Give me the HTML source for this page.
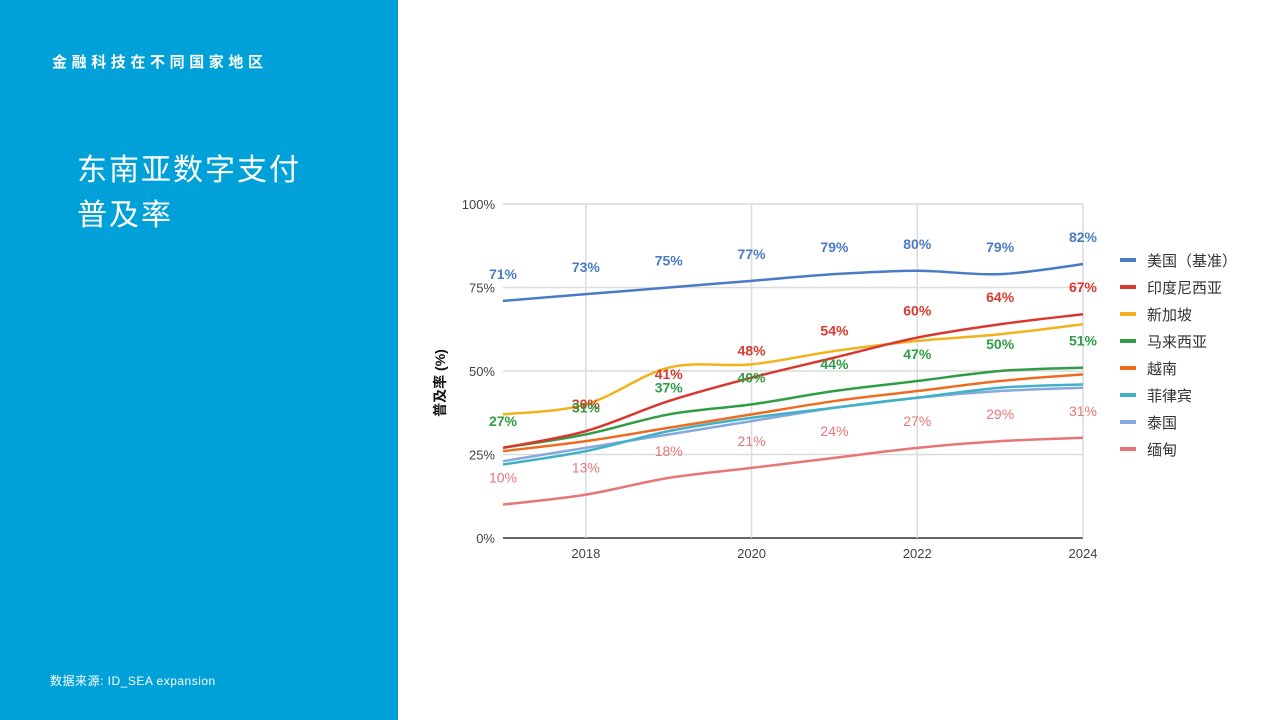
<!DOCTYPE html>
<html><head><meta charset="utf-8"><style>
body{margin:0;width:1280px;height:720px;position:relative;background:#fff;font-family:"Liberation Sans","Noto Sans CJK SC",sans-serif;overflow:hidden}
#side{position:absolute;left:0;top:0;width:398px;height:720px;background:#00a1d8;color:#fff}
.sub{position:absolute;left:52px;top:51px;font-size:15px;font-weight:bold;letter-spacing:4.6px;white-space:nowrap}
.title{position:absolute;left:77px;top:148px;font-size:30px;line-height:45px;letter-spacing:2px}
.src{position:absolute;left:50px;top:672px;font-size:12px;letter-spacing:0.5px}
svg{position:absolute;left:0;top:0}
</style></head><body>
<div id="side">
<div class="sub">金融科技在不同国家地区</div>
<div class="title">东南亚数字支付<br>普及率</div>
<div class="src">数据来源: ID_SEA expansion</div>
</div>
<svg id="chart" width="1280" height="720"></svg>
<script>
const years=[2017,2018,2019,2020,2021,2022,2023,2024];
const names=["美国（基准）","印度尼西亚","新加坡","马来西亚","越南","菲律宾","泰国","缅甸"];
const colors=["#4a7bc6","#d8392f","#f2b21c","#2f9d45","#f06b22","#40b2c8","#86a8dd","#e87676"];
const usVals=[71,73,75,77,79,80,79,82];
const idVals=[27,32,41,48,54,60,64,67];
const sgVals=[37,40,51,52,56,59,61,64];
const myVals=[27,31,37,40,44,47,50,51];
const vnVals=[26,29,33,37,41,44,47,49];
const phVals=[22,26,32,36,39,42,45,46];
const thVals=[23,27,31,35,39,42,44,45];
const mmVals=[10,13,18,21,24,27,29,30];
const idLabels=[null,30,41,48,54,60,64,67];
const mmLabels=[10,13,18,21,24,27,29,31];
const yTicks=[0,25,50,75,100];
const xTicks=[2018,2020,2022,2024];
const series=[usVals,idVals,sgVals,myVals,vnVals,phVals,thVals,mmVals];
const labelSets=[usVals,idLabels,null,myVals,null,null,null,mmLabels];
const NS="http://www.w3.org/2000/svg",svg=document.getElementById('chart');
const x=y=>503+(y-2017)*(1083-503)/7, yv=v=>538-v*3.34;
function mk(t,a,txt){const e=document.createElementNS(NS,t);for(const k in a)e.setAttribute(k,a[k]);if(txt!=null)e.textContent=txt;svg.appendChild(e);return e;}
yTicks.forEach(t=>{const g=mk('line',{x1:503,x2:1083,y1:yv(t),y2:yv(t),stroke:t?'#dcdcdc':'#333','stroke-width':1.5});

const l=mk('text',{x:495,y:yv(t)+5,'text-anchor':'end','font-size':13,fill:'#444'},t+'%');
});
xTicks.forEach(t=>{const g=mk('line',{x1:x(t),x2:x(t),y1:204,y2:538,stroke:'#dcdcdc','stroke-width':1.5});

const l=mk('text',{x:x(t),y:558,'text-anchor':'middle','font-size':13,fill:'#444'},t);
});
const yt=mk('text',{x:0,y:0,transform:'translate(445,383) rotate(-90)','text-anchor':'middle','font-size':14,'font-weight':'bold',fill:'#111'},'普及率 (%)');

function path(vals){const p=vals.map((v,i)=>[x(years[i]),yv(v)]);let d='M'+p[0][0]+','+p[0][1];
for(let i=0;i<p.length-1;i++){const p0=p[Math.max(0,i-1)],p1=p[i],p2=p[i+1],p3=p[Math.min(p.length-1,i+2)];
d+=` C${p1[0]+(p2[0]-p0[0])/6},${p1[1]+(p2[1]-p0[1])/6} ${p2[0]-(p3[0]-p1[0])/6},${p2[1]-(p3[1]-p1[1])/6} ${p2[0]},${p2[1]}`;}return d;}
for(let s=series.length-1;s>=0;s--){const e=mk('path',{d:path(series[s]),fill:'none',stroke:colors[s],'stroke-width':2.5});
}
[1,0,3,7].forEach(s=>{const L=labelSets[s];L.forEach((v,i)=>{if(v==null)return;
const t=mk('text',{x:x(years[i]),y:yv(series[s][i])-22,'text-anchor':'middle','font-size':14,'font-weight':s==7?'normal':'bold',fill:colors[s]},v+'%');
});});
names.forEach((n,i)=>{const yy=260+i*27;const r=mk('rect',{x:1120,y:yy-2,width:16,height:4,fill:colors[i]});

const t=mk('text',{x:1147,y:yy+6,'font-size':15,fill:'#333'},n);
});
</script>
</body></html>
